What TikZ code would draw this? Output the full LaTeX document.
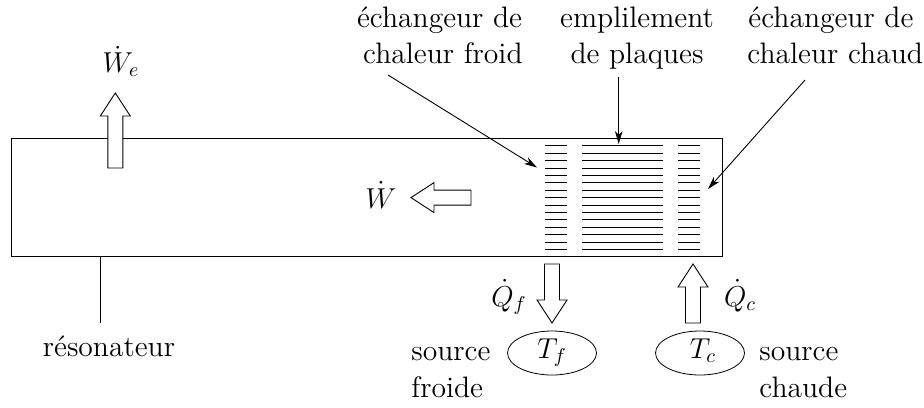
\documentclass[tikz,border=0pt]{standalone}
\usetikzlibrary{arrows.meta,shapes.geometric}
\tikzset{
  txt/.style={inner sep=0pt,anchor=base,font=\fontsize{14.8}{17}\selectfont},
  ltxt/.style={txt,anchor=base west},
  rtxt/.style={txt,anchor=base east},
  lead/.style={line width=0.45pt,-{Stealth[length=6.5pt,width=3.8pt,inset=2pt]}},
  plate/.style={line width=0.5pt},
  src/.style={draw,ellipse,line width=0.4pt,minimum width=44.5pt,minimum height=22pt,inner sep=0pt},
  pics/bigarrow/.style={code={
    \draw[line width=0.45pt,fill=white,line join=miter]
      (0,0) -- (0,-7.5) -- (#1-23,-7.5) -- (#1-23,-15) -- (#1,0) -- (#1-23,15) -- (#1-23,7.5) -- (0,7.5) -- cycle;
  }}
}
\begin{document}
\begin{tikzpicture}[x=0.5pt,y=-0.5pt]
\useasboundingbox (0,0) rectangle (924,407);
% resonator
\node[rectangle,draw,line width=0.5pt,minimum width=355.5pt,minimum height=59pt,inner sep=0pt,anchor=north west] (res) at (11,138.3) {};
% plates
\foreach \i in {0,...,14}{
  \draw[plate] (545,145.8+7.4*\i) -- (567,145.8+7.4*\i);
  \draw[plate] (582,145.8+7.4*\i) -- (663,145.8+7.4*\i);
  \draw[plate] (678,145.8+7.4*\i) -- (700,145.8+7.4*\i);
}
% labels
\node[rtxt] (ef1) at (522.5,27) {échangeur de};
\node[rtxt] (ef2) at (523,63) {chaleur froid};
\node[txt] (pl1) at (637,27) {emplilement};
\node[txt] (pl2) at (637,63) {de plaques};
\node[ltxt] (ec1) at (748,27) {échangeur de};
\node[ltxt] (ec2) at (747,63) {chaleur chaud};
\node[txt] (reslab) at (109,356) {résonateur};
\node[ltxt] (sf1) at (411,360) {source};
\node[ltxt] (sf2) at (411,397) {froide};
\node[ltxt] (sc1) at (759,360) {source};
\node[ltxt] (sc2) at (759,397) {chaude};
\node[txt] (we) at (121,72.5) {$\dot W_e$};
\node[txt] (w) at (381,208) {$\dot W$};
\node[txt] (qf) at (509,306) {$\dot Q_f$};
\node[txt] (qc) at (740,306) {$\dot Q_c$};
% sources
\node[src] (tf) at (552,353) {};
\node[src] (tc) at (700,353) {};
\node[txt] (tft) at (552,358) {$T_f$};
\node[txt] (tct) at (703,358) {$T_c$};
% big arrows
\pic[rotate=90] at (115.3,168) {bigarrow=75};
\pic[rotate=180] at (471,197.6) {bigarrow=60};
\pic[rotate=-90] at (552,264) {bigarrow=59};
\pic[rotate=90] at (693,323) {bigarrow=59};
% leaders
\coordinate (a1s) at (388,75);
\coordinate (a1e) at (537,167.5);
\coordinate (a2s) at (618.7,77);
\coordinate (a2e) at (618.7,144);
\coordinate (a3s) at (805,80);
\coordinate (a3e) at (708,189);
\coordinate (r1) at (100.5,256.3);
\coordinate (r2) at (100.5,322.7);
\draw[lead] (a1s) -- (a1e);
\draw[lead] (a2s) -- (a2e);
\draw[lead] (a3s) -- (a3e);
\draw[line width=0.45pt] (r1) -- (r2);
\end{tikzpicture}
\end{document}
